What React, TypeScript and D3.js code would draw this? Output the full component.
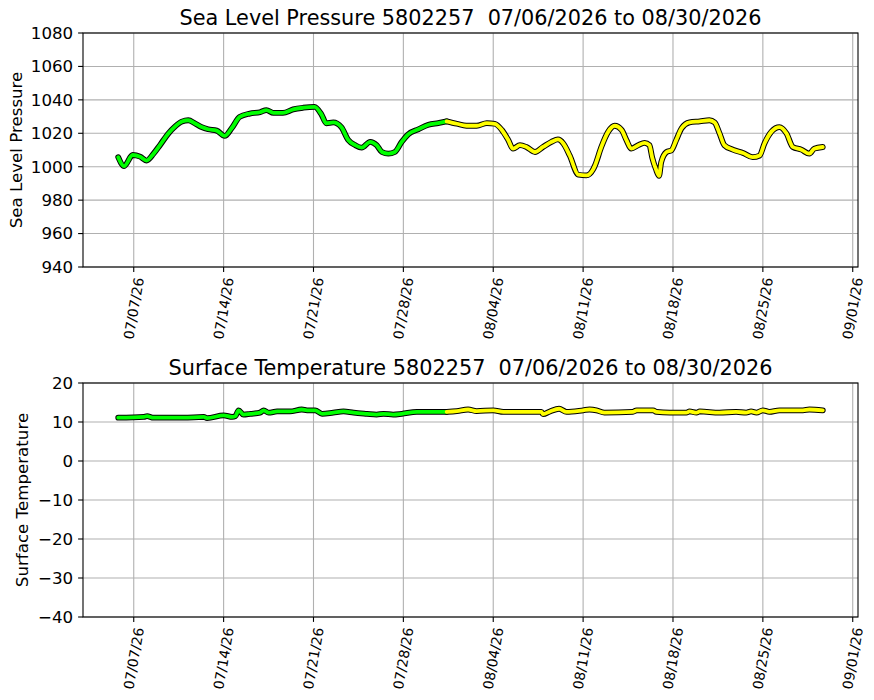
import React from 'react';
import * as d3 from 'd3';

// Sea level pressure readings (UTC)
const pressureTimes = [
  '2026-07-05T19:00', '2026-07-06T06:00', '2026-07-06T22:00', '2026-07-07T12:00',
  '2026-07-08T00:00', '2026-07-08T13:00', '2026-07-09T01:00', '2026-07-09T17:00',
  '2026-07-10T05:00', '2026-07-10T18:00', '2026-07-11T06:00', '2026-07-11T18:00',
  '2026-07-12T07:00', '2026-07-12T19:00', '2026-07-13T11:00', '2026-07-14T02:00',
  '2026-07-14T15:00', '2026-07-15T06:00', '2026-07-16T01:00', '2026-07-16T20:00',
  '2026-07-17T08:00', '2026-07-17T21:00', '2026-07-18T15:00', '2026-07-19T10:00',
  '2026-07-20T05:00', '2026-07-21T02:00', '2026-07-21T15:00', '2026-07-22T00:00',
  '2026-07-22T13:00', '2026-07-23T04:00', '2026-07-23T17:00', '2026-07-24T06:00',
  '2026-07-24T18:00', '2026-07-25T10:00', '2026-07-25T22:00', '2026-07-26T08:00',
  '2026-07-26T20:00', '2026-07-27T08:00', '2026-07-27T21:00', '2026-07-28T09:00',
  '2026-07-29T04:00', '2026-07-29T23:00', '2026-07-30T17:00', '2026-07-31T09:00',
  '2026-08-01T04:00', '2026-08-01T22:00', '2026-08-02T17:00', '2026-08-03T12:00',
  '2026-08-04T03:00', '2026-08-04T16:00', '2026-08-05T04:00', '2026-08-05T13:00',
  '2026-08-06T02:00', '2026-08-06T14:00', '2026-08-07T06:00', '2026-08-07T21:00',
  '2026-08-08T13:00', '2026-08-09T01:00', '2026-08-09T11:00', '2026-08-09T23:00',
  '2026-08-10T15:00', '2026-08-11T06:00', '2026-08-11T19:00', '2026-08-11T22:00',
  '2026-08-12T10:00', '2026-08-12T23:00', '2026-08-13T11:00', '2026-08-14T00:00',
  '2026-08-14T09:00', '2026-08-14T18:00', '2026-08-15T07:00', '2026-08-15T19:00',
  '2026-08-16T04:00', '2026-08-16T09:00', '2026-08-16T16:00', '2026-08-16T22:00',
  '2026-08-17T02:00', '2026-08-17T12:00', '2026-08-17T21:00', '2026-08-18T06:00',
  '2026-08-18T16:00', '2026-08-19T07:00', '2026-08-20T02:00', '2026-08-20T20:00',
  '2026-08-21T06:00', '2026-08-21T15:00', '2026-08-22T00:00', '2026-08-22T16:00',
  '2026-08-23T11:00', '2026-08-24T05:00', '2026-08-24T18:00', '2026-08-25T03:00',
  '2026-08-25T16:00', '2026-08-26T07:00', '2026-08-26T20:00', '2026-08-27T08:00',
  '2026-08-28T00:00', '2026-08-28T15:00', '2026-08-29T00:00', '2026-08-29T16:00',
];
const pressureValues = [
  1005.7, 1000.4, 1007.0, 1006.0, 1003.7, 1007.8, 1012.9, 1020.0,
  1024.0, 1027.0, 1027.8, 1026.0, 1023.7, 1022.4, 1021.6, 1018.4,
  1023.0, 1029.8, 1031.8, 1032.6, 1033.9, 1032.2, 1032.2, 1034.3,
  1035.3, 1035.8, 1031.2, 1026.0, 1026.5, 1023.7, 1016.0, 1012.9,
  1011.4, 1014.9, 1012.9, 1008.8, 1007.8, 1008.8, 1014.9, 1019.4,
  1022.4, 1025.1, 1026.1, 1027.1, 1025.7, 1024.5, 1024.5, 1026.1,
  1025.7, 1022.0, 1016.0, 1010.8, 1012.9, 1011.8, 1008.8, 1011.8,
  1014.9, 1016.3, 1013.9, 1006.7, 995.2, 994.8, 998.6, 1000.6,
  1011.8, 1021.0, 1024.5, 1022.0, 1015.9, 1010.8, 1012.9, 1014.3,
  1012.9, 1005.7, 998.6, 994.5, 1002.7, 1008.8, 1009.8, 1015.9,
  1023.0, 1026.5, 1027.1, 1027.8, 1026.5, 1020.0, 1012.9, 1010.2,
  1008.2, 1005.7, 1006.7, 1013.9, 1021.0, 1023.7, 1020.0, 1011.8,
  1010.2, 1007.8, 1010.8, 1011.8,
];

// Surface temperature readings (UTC)
const temperatureTimes = [
  '2026-07-05T19:00', '2026-07-07T19:00', '2026-07-08T01:00', '2026-07-08T13:00',
  '2026-07-10T21:00', '2026-07-12T11:00', '2026-07-12T17:00', '2026-07-14T00:00',
  '2026-07-14T16:00', '2026-07-14T22:00', '2026-07-15T04:00', '2026-07-15T13:00',
  '2026-07-16T02:00', '2026-07-16T20:00', '2026-07-17T03:00', '2026-07-17T12:00',
  '2026-07-18T04:00', '2026-07-19T04:00', '2026-07-20T02:00', '2026-07-20T12:00',
  '2026-07-21T03:00', '2026-07-21T16:00', '2026-07-22T13:00', '2026-07-23T08:00',
  '2026-07-24T03:00', '2026-07-25T04:00', '2026-07-25T22:00', '2026-07-26T11:00',
  '2026-07-27T05:00', '2026-07-27T21:00', '2026-07-29T01:00', '2026-07-31T09:00',
  '2026-08-01T04:00', '2026-08-02T01:00', '2026-08-02T17:00', '2026-08-04T00:00',
  '2026-08-04T19:00', '2026-08-07T18:00', '2026-08-07T21:00', '2026-08-08T10:00',
  '2026-08-09T03:00', '2026-08-09T17:00', '2026-08-11T00:00', '2026-08-11T12:00',
  '2026-08-12T01:00', '2026-08-12T16:00', '2026-08-14T21:00', '2026-08-15T04:00',
  '2026-08-16T11:00', '2026-08-16T17:00', '2026-08-17T18:00', '2026-08-19T01:00',
  '2026-08-19T07:00', '2026-08-19T20:00', '2026-08-20T02:00', '2026-08-21T15:00',
  '2026-08-22T22:00', '2026-08-23T17:00', '2026-08-24T02:00', '2026-08-24T12:00',
  '2026-08-25T00:00', '2026-08-25T12:00', '2026-08-26T07:00', '2026-08-28T03:00',
  '2026-08-28T15:00', '2026-08-29T16:00',
];
const temperatureValues = [
  11.1, 11.3, 11.5, 11.1, 11.1, 11.3, 11.0, 11.7,
  11.3, 11.5, 13.0, 11.9, 12.1, 12.4, 13.0, 12.4,
  12.7, 12.7, 13.2, 13.0, 13.0, 12.1, 12.4, 12.7,
  12.4, 12.1, 11.9, 12.1, 11.9, 12.1, 12.6, 12.6,
  12.8, 13.2, 12.8, 13.0, 12.6, 12.6, 12.0, 12.7,
  13.4, 12.6, 13.0, 13.2, 13.0, 12.4, 12.6, 13.0,
  13.0, 12.6, 12.4, 12.4, 12.7, 12.4, 12.7, 12.4,
  12.6, 12.4, 12.7, 12.4, 13.0, 12.6, 13.0, 13.0,
  13.2, 13.0,
];

// readings after this time are drawn yellow instead of green
const qcSplitTime = '2026-07-31T09:00';

const W = 874;
const H = 700;
const left = 83;
const right = 858;
const font = 'DejaVu Sans';
const parse = d3.utcParse('%Y-%m-%dT%H:%M');
const fmt = d3.utcFormat('%m/%d/%y');

type Pt = { t: Date; v: number };

type PanelProps = {
  title: string;
  yLabel: string;
  yLabelX: number;
  times: string[];
  values: number[];
  yDomain: [number, number];
  yTickCount: number;
  top: number;
  bottom: number;
};

const Panel: React.FC<PanelProps> = ({
  title, yLabel, yLabelX, times, values, yDomain, yTickCount, top, bottom,
}) => {
  const pts: Pt[] = times.map((s, i) => ({ t: parse(s) as Date, v: values[i] }));
  const [t0, t1] = d3.extent(pts, (d) => d.t) as [Date, Date];
  const pad = (+t1 - +t0) * 0.05;
  const x = d3.scaleUtc().domain([new Date(+t0 - pad), new Date(+t1 + pad)]).range([left, right]);
  const y = d3.scaleLinear().domain(yDomain).range([bottom, top]);
  const xTicks = x.ticks(d3.utcTuesday.every(1) as d3.TimeInterval);
  const yTicks = y.ticks(yTickCount);

  const split = parse(qcSplitTime) as Date;
  const green = pts.filter((d) => d.t <= split);
  const yellow = pts.filter((d) => d.t >= split);

  const line = d3.line<Pt>().x((d) => x(d.t)).y((d) => y(d.v)).curve(d3.curveMonotoneX);
  const tick = 4.9;

  return (
    <g fontFamily={font}>
      {/* grid */}
      {xTicks.map((t) => (
        <line key={'gx' + +t} x1={x(t)} x2={x(t)} y1={top} y2={bottom} stroke="#b0b0b0" strokeWidth={1.1} />
      ))}
      {yTicks.map((v) => (
        <line key={'gy' + v} x1={left} x2={right} y1={y(v)} y2={y(v)} stroke="#b0b0b0" strokeWidth={1.1} />
      ))}

      {/* data: black outline under coloured band */}
      {[green, yellow].map((seg, i) => (
        <path key={'o' + i} d={line(seg) || ''} fill="none" stroke="#000" strokeWidth={5.8}
          strokeLinejoin="round" strokeLinecap="round" />
      ))}
      <path d={line(green) || ''} fill="none" stroke="#00ff00" strokeWidth={3.8} strokeLinejoin="round" strokeLinecap="round" />
      <path d={line(yellow) || ''} fill="none" stroke="#ffff00" strokeWidth={3.8} strokeLinejoin="round" strokeLinecap="round" />

      {/* frame */}
      <rect x={left} y={top} width={right - left} height={bottom - top} fill="none" stroke="#000" strokeWidth={1.1} />

      {/* y axis */}
      {yTicks.map((v) => (
        <g key={'ty' + v}>
          <line x1={left - tick} x2={left} y1={y(v)} y2={y(v)} stroke="#000" strokeWidth={1.1} />
          <text x={left - tick - 4.9} y={y(v)} dy="0.35em" textAnchor="end" fontSize={16.67} fill="#000">
            {d3.format('d')(v)}
          </text>
        </g>
      ))}

      {/* x axis */}
      {xTicks.map((t) => (
        <g key={'tx' + +t}>
          <line x1={x(t)} x2={x(t)} y1={bottom} y2={bottom + tick} stroke="#000" strokeWidth={1.1} />
          <text transform={`translate(${x(t)},${bottom + tick + 4.9 + 31.6}) rotate(-80)`} dy="0.35em"
            textAnchor="middle" fontSize={13.9} fill="#000">
            {fmt(t)}
          </text>
        </g>
      ))}

      <text x={(left + right) / 2} y={top - 8.3} textAnchor="middle" fontSize={20.8} fill="#000"
        style={{ whiteSpace: 'pre' }}>
        {title}
      </text>
      <text transform={`translate(${yLabelX},${(top + bottom) / 2}) rotate(-90)`} textAnchor="middle"
        fontSize={16.67} fill="#000">
        {yLabel}
      </text>
    </g>
  );
};

export default function App() {
  return (
    <svg width={W} height={H} style={{ position: 'absolute', left: 0, top: 0, background: '#fff' }}>
      <Panel
        title={'Sea Level Pressure 5802257  07/06/2026 to 08/30/2026'}
        yLabel="Sea Level Pressure"
        yLabelX={22}
        times={pressureTimes}
        values={pressureValues}
        yDomain={[940, 1080]}
        yTickCount={7}
        top={33}
        bottom={267}
      />
      <Panel
        title={'Surface Temperature 5802257  07/06/2026 to 08/30/2026'}
        yLabel="Surface Temperature"
        yLabelX={28}
        times={temperatureTimes}
        values={temperatureValues}
        yDomain={[-40, 20]}
        yTickCount={6}
        top={383}
        bottom={617}
      />
    </svg>
  );
}
